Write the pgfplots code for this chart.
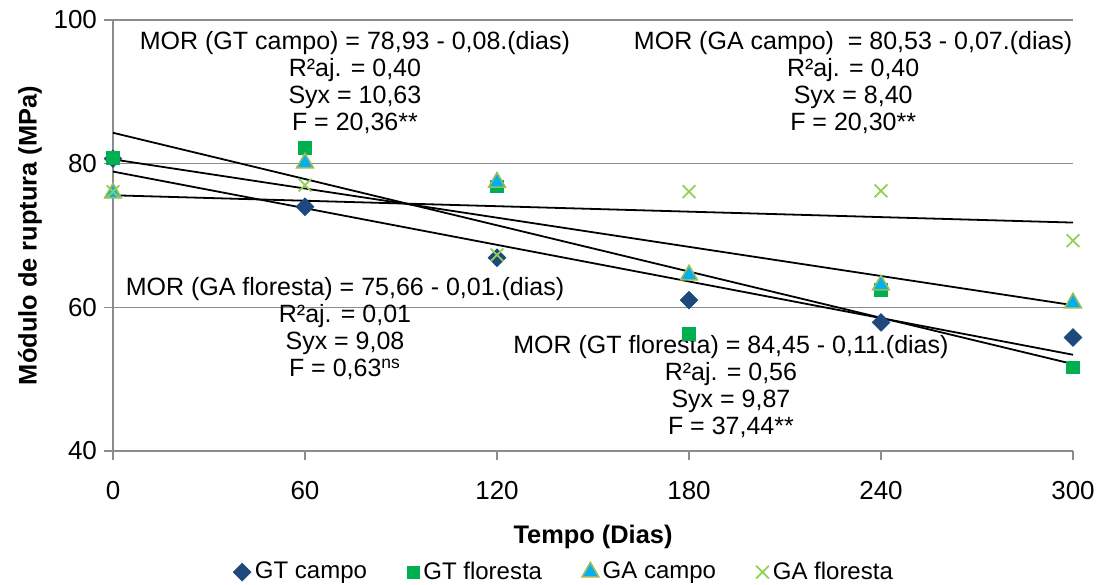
\documentclass[border=0pt]{standalone}
\usepackage{fontspec}
\setmainfont{Liberation Sans}
\usepackage{pgfplots}
\pgfplotsset{compat=1.18}
\definecolor{gtcampo}{HTML}{1F497D}
\definecolor{gtflor}{HTML}{00B050}
\definecolor{gacampo}{HTML}{00B0F0}
\definecolor{gaedge}{HTML}{9BBB59}
\definecolor{gaflor}{HTML}{92D050}
\definecolor{gridgray}{HTML}{8C8C8C}

\begin{document}
\begin{tikzpicture}[x=1pt,y=1pt]
\path[use as bounding box] (-56.5,-66.5) rectangle (492,225.5);
\begin{axis}[
    at={(0,0)}, anchor=south west,
    width=480pt, height=215.5pt, scale only axis,
    xmin=0, xmax=300, ymin=40, ymax=100,
    xtick={0,60,120,180,240,300},
    ytick={40,60,80,100},
    axis x line*=bottom, axis y line*=left,
    axis line style={gridgray, line width=0.8pt, -},
    tick style={gridgray, line width=0.8pt},
    tick align=outside, major tick length=4.5pt,
    ymajorgrids, grid style={gridgray, line width=0.8pt},
    tick label style={font=\fontsize{13}{15}\selectfont},
    xticklabel style={yshift=-7pt},
    /pgf/number format/assume math mode=true,
    xlabel={\textbf{Tempo (Dias)}},
    ylabel={\textbf{Módulo de ruptura (MPa)}},
    label style={font=\fontsize{12.7}{14}\selectfont},
    xlabel style={at={(axis description cs:0.5,-0.2)}, anchor=center},
    ylabel style={at={(axis description cs:-0.0865,0.5)}, anchor=center},
    clip=false,
    legend columns=4,
    legend style={draw=none, at={(0.471,-0.281)}, anchor=center,
        font=\fontsize{12}{14}\selectfont,
        /tikz/every odd column/.append style={column sep=0pt},
        /tikz/every even column/.append style={column sep=18pt}},
    legend image code/.code={\draw[mark repeat=2, mark phase=2]
        plot coordinates {(0pt,0pt)(5pt,0pt)(10pt,0pt)};}
]
% medias
\addplot[only marks, mark=square*, mark size=3.1pt, color=gtcampo,
    mark options={rotate=45}]
    coordinates {(0,80.7) (60,74.0) (120,66.9) (180,61.0) (240,57.9) (300,55.8)};
\addlegendentry{GT campo}
\addplot[only marks, mark=square*, mark size=3.1pt, color=gtflor]
    coordinates {(0,80.8) (60,82.2) (120,76.8) (180,56.3) (240,62.4) (300,51.6)};
\addlegendentry{GT floresta}
\addplot[only marks, mark=triangle*, mark size=4.8pt,
    mark options={fill=gacampo, draw=gaedge, line width=0.8pt}]
    coordinates {(0,75.9) (60,80.1) (120,77.4) (180,64.5) (240,63.1) (300,60.6)};
\addlegendentry{GA campo}
\addplot[only marks, mark=x, mark size=4.5pt, color=gaflor, line width=0.9pt]
    coordinates {(0,76.1) (60,77.0) (120,67.3) (180,76.1) (240,76.2) (300,69.3)};
\addlegendentry{GA floresta}

% retas ajustadas
\addplot[black, line width=0.9pt, forget plot] coordinates {(0,78.9) (300,53.4)};
\addplot[black, line width=0.9pt, forget plot] coordinates {(0,84.3) (300,52.1)};
\addplot[black, line width=0.9pt, forget plot] coordinates {(0,80.6) (300,60.3)};
\addplot[black, line width=0.9pt, forget plot] coordinates {(0,75.6) (300,71.8)};

\node[align=center, font=\fontsize{12.5}{13.5}\selectfont] at (axis cs:75.6,91.25)
    {MOR (GT campo) = 78,93 - 0,08.(dias)\\R²aj. = 0,40\\Syx = 10,63\\F = 20,36**};
\node[align=center, font=\fontsize{12.5}{13.5}\selectfont] at (axis cs:231.3,91.25)
    {MOR (GA campo)\ \ = 80,53 - 0,07.(dias)\\R²aj. = 0,40\\Syx = 8,40\\F = 20,30**};
\node[align=center, font=\fontsize{12.5}{13.5}\selectfont] at (axis cs:72.5,57.0)
    {MOR (GA floresta) = 75,66 - 0,01.(dias)\\R²aj. = 0,01\\Syx = 9,08\\F = 0,63\textsuperscript{ns}};
\node[align=center, font=\fontsize{12.5}{13.5}\selectfont] at (axis cs:193.1,49.0)
    {MOR (GT floresta) = 84,45 - 0,11.(dias)\\R²aj. = 0,56\\Syx = 9,87\\F = 37,44**};
\end{axis}
\end{tikzpicture}
\end{document}
